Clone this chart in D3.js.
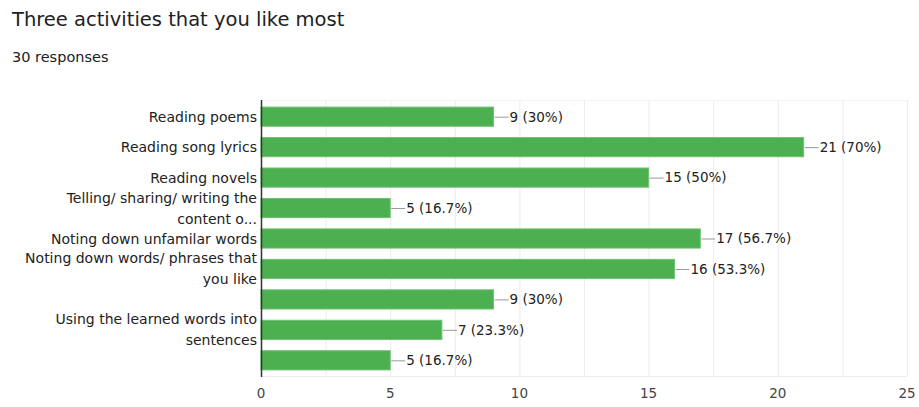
<!DOCTYPE html>
<html lang="en">
  <head>
    <meta charset='utf-8'>
    <script type="text/javascript" src="https://cdn.jsdelivr.net/npm/d3@7"></script>
    <title>Three activities that you like most</title>
    <style>
      body{margin:0;background:#fff;}
      text{font-family:"DejaVu Sans",Verdana,sans-serif;}
    </style>
  </head>
  <body>
    <div id="mainDiv"></div>
    <script type="text/javascript">
      //Data
      var categories=[
        ["Reading poems"],
        ["Reading song lyrics"],
        ["Reading novels"],
        ["Telling/ sharing/ writing the","content o..."],
        ["Noting down unfamilar words"],
        ["Noting down words/ phrases that","you like"],
        [""],
        ["Using the learned words into","sentences"],
        [""]
      ];
      var counts=[9,21,15,5,17,16,9,7,5];
      var percents=["30%","70%","50%","16.7%","56.7%","53.3%","30%","23.3%","16.7%"];
      var xTicks=[0,5,10,15,20,25];
      var gridTicks=[0,2.5,5,7.5,10,12.5,15,17.5,20,22.5,25];

      var w=919,h=407;
      var plotLeft=261,plotRight=907,plotTop=101,plotBottom=376;

      var svg=d3.select("#mainDiv")
        .append("svg")
        .attr("width",w)
        .attr("height",h);

      //Title
      svg.append("text")
        .attr("x",12).attr("y",26)
        .attr("fill","#202124")
        .attr("style","font-size:19.5px")
        .text("Three activities that you like most");
      svg.append("text")
        .attr("x",12).attr("y",62)
        .attr("fill","#202124")
        .attr("style","font-size:14.5px")
        .text("30 responses");

      var x=d3.scaleLinear().domain([0,25]).range([plotLeft,plotRight]);
      var y=d3.scaleBand().domain(d3.range(categories.length)).range([plotTop,plotBottom]).paddingInner(0.37).paddingOuter(0.2);

      //Gridlines
      svg.selectAll(".grid")
        .data(gridTicks)
        .enter()
        .append("line")
        .attr("x1",function(d){return x(d)+0.5;})
        .attr("x2",function(d){return x(d)+0.5;})
        .attr("y1",plotTop-1).attr("y2",plotBottom)
        .attr("stroke","#ececec");
      svg.append("line")
        .attr("x1",plotLeft).attr("x2",plotRight)
        .attr("y1",plotTop-0.5).attr("y2",plotTop-0.5)
        .attr("stroke","#f2f2f2");
      svg.append("line")
        .attr("x1",plotLeft).attr("x2",plotRight)
        .attr("y1",plotBottom+0.5).attr("y2",plotBottom+0.5)
        .attr("stroke","#ececec");

      //Bars
      svg.selectAll(".bar")
        .data(counts)
        .enter()
        .append("rect")
        .attr("x",x(0))
        .attr("y",function(d,i){return y(i);})
        .attr("width",function(d){return x(d)-x(0);})
        .attr("height",y.bandwidth())
        .attr("fill","#4caf50")
        .attr("stroke","#6fc172")
        .attr("stroke-width",1);

      //Value labels with leader line
      counts.forEach(function(d,i){
        var cy=y(i)+y.bandwidth()/2;
        svg.append("line")
          .attr("x1",x(d)+1).attr("x2",x(d)+15)
          .attr("y1",cy+0.5).attr("y2",cy+0.5)
          .attr("stroke","#999");
        svg.append("text")
          .attr("x",x(d)+16).attr("y",cy)
          .attr("dy","0.36em")
          .attr("fill","#222")
          .attr("style","font-size:13.5px")
          .text(d+" ("+percents[i]+")");
      });

      //Category labels
      categories.forEach(function(lines,i){
        var cy=y(i)+y.bandwidth()/2;
        var off=(lines.length-1)*10.5;
        lines.forEach(function(t,j){
          svg.append("text")
            .attr("x",plotLeft-4)
            .attr("y",cy-off+j*21)
            .attr("dy","0.36em")
            .attr("text-anchor","end")
            .attr("fill","#222")
            .attr("style","font-size:14px")
            .text(t);
        });
      });

      //Axis line
      svg.append("line")
        .attr("x1",plotLeft+0.5).attr("x2",plotLeft+0.5)
        .attr("y1",plotTop-1).attr("y2",plotBottom+1)
        .attr("stroke","#333")
        .attr("stroke-width",1.5);

      //X tick labels
      svg.selectAll(".tick")
        .data(xTicks)
        .enter()
        .append("text")
        .attr("x",function(d){return x(d);})
        .attr("y",398)
        .attr("text-anchor","middle")
        .attr("fill","#444")
        .attr("style","font-size:13.5px")
        .text(function(d){return d;});
    </script>
  </body>
</html>
